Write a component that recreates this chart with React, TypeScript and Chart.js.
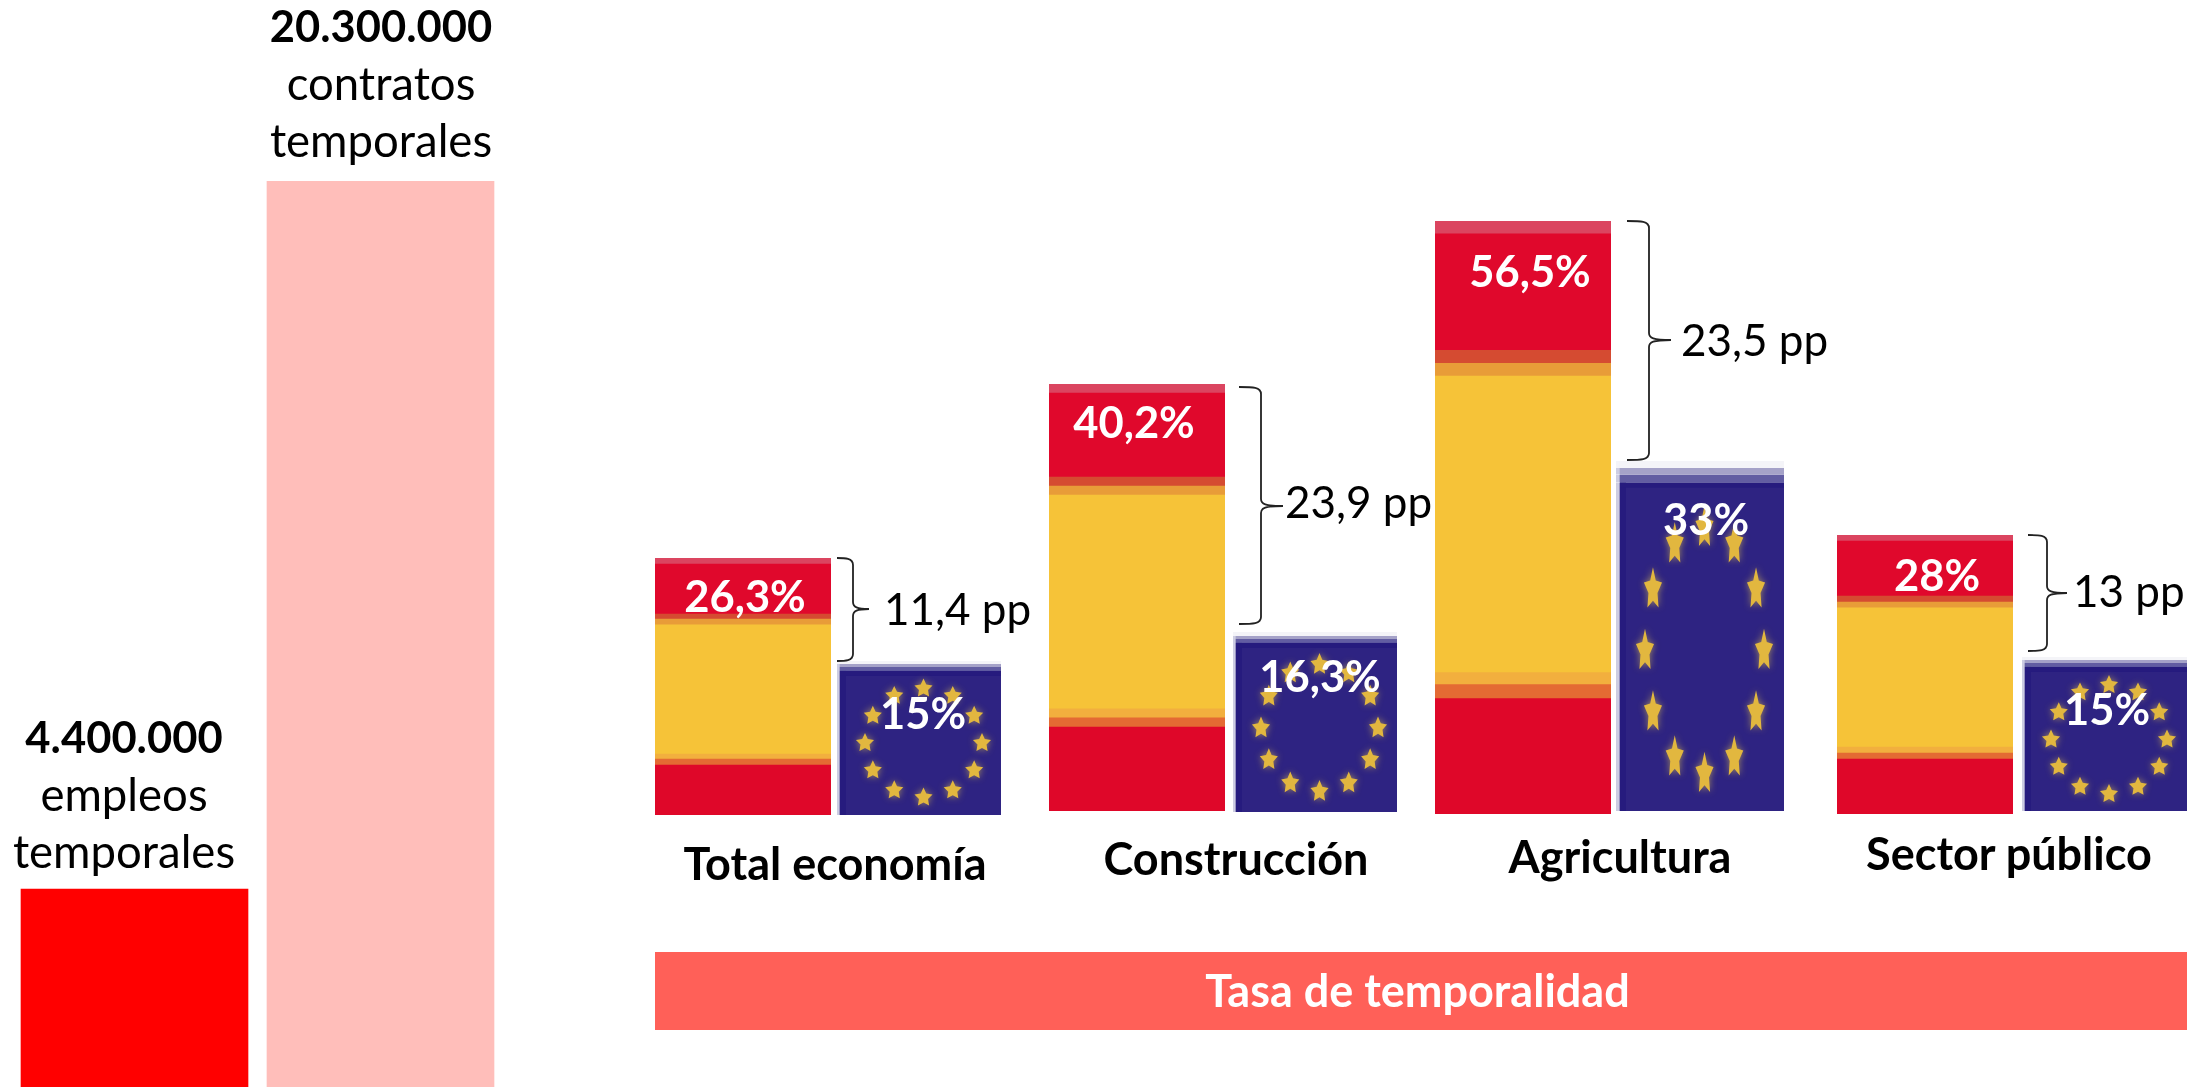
import React, { useEffect, useRef } from "react";
import { Chart, registerables } from "chart.js";

Chart.register(...registerables);

// ---------- data ----------
const totalsLabels = ["Empleos temporales", "Contratos temporales"];
const totalsValues = [4400000, 20300000];

const categories = ["Total economía", "Construcción", "Agricultura", "Sector público"];
const spainRates = [26.3, 40.2, 56.5, 28];
const euRates = [15, 16.3, 33, 15];
const gapLabels = ["11,4 pp", "23,9 pp", "23,5 pp", "13 pp"];
const rateLabelsSpain = ["26,3%", "40,2%", "56,5%", "28%"];
const rateLabelsEu = ["15%", "16,3%", "33%", "15%"];

// Flag stripes of each Spanish bar, bottom to top; they add up to the rate.
const esRedLow = [5.12, 7.91, 11.0, 5.52];
const esOrangeLow = [0.61, 0.85, 1.33, 0.6];
const esAmberLow = [0.51, 0.85, 1.14, 0.6];
const esYellow = [13.21, 20.13, 28.25, 13.96];
const esAmberHigh = [0.61, 0.85, 1.23, 0.6];
const esOrangeHigh = [0.51, 0.85, 1.23, 0.6];
const esRedHigh = [5.12, 7.91, 11.09, 5.52];
const esPale = [0.61, 0.85, 1.23, 0.6];

// Layers of each EU bar, bottom to top; they add up to the rate.
const euBody = [14.03, 15.31, 30.95, 14.03];
const euBandDark = [0.39, 0.36, 0.75, 0.39];
const euBandLight = [0.29, 0.27, 0.65, 0.29];
const euBandFaint = [0.29, 0.36, 0.65, 0.29];

// ---------- layout ----------
const spainFrames = [
  { left: 655, top: 558, width: 176, height: 257 },
  { left: 1049, top: 384, width: 176, height: 427 },
  { left: 1435, top: 221, width: 176, height: 593 },
  { left: 1837, top: 535, width: 176, height: 279 },
];
const euFrames = [
  { left: 837, top: 661, width: 164, height: 154 },
  { left: 1233, top: 632, width: 164, height: 180 },
  { left: 1616, top: 461, width: 168, height: 350 },
  { left: 2022, top: 657, width: 165, height: 154 },
];
const spainLabelPos = [
  { x: 745, y: 612 },
  { x: 1134, y: 438 },
  { x: 1530, y: 287 },
  { x: 1937, y: 591 },
];
const euLabelPos = [
  { x: 923, y: 729 },
  { x: 1320, y: 692 },
  { x: 1706, y: 535 },
  { x: 2107, y: 725 },
];
const rings = [
  { cx: 923.5, cy: 743, rx: 58.5, ry: 54.5 },
  { cx: 1319.5, cy: 728, rx: 58.5, ry: 63.5 },
  { cx: 1704.5, cy: 651, rx: 59.5, ry: 123 },
  { cx: 2109, cy: 739.5, rx: 58, ry: 54.5 },
];
const braces = [
  { x0: 837, x1: 853, x2: 869, top: 558, mid: 609, bottom: 661 },
  { x0: 1239, x1: 1261, x2: 1283, top: 387, mid: 506, bottom: 624 },
  { x0: 1627, x1: 1649, x2: 1671, top: 221, mid: 340, bottom: 460 },
  { x0: 2028, x1: 2047, x2: 2067, top: 535, mid: 593, bottom: 651 },
];
const gapPos = [
  { x: 884, y: 625 },
  { x: 1285, y: 518 },
  { x: 1681, y: 356 },
  { x: 2073, y: 607 },
];
const categoryPos = [
  { x: 835, y: 880 },
  { x: 1236, y: 875 },
  { x: 1620, y: 873 },
  { x: 2009, y: 870 },
];

const FONT = "Lato";
const LABEL_FONT = `bold 43.5px ${FONT}`;

function drawStar(ctx: CanvasRenderingContext2D, x: number, y: number, sx: number, sy: number) {
  ctx.beginPath();
  for (let i = 0; i < 10; i++) {
    const a = -Math.PI / 2 + (i * Math.PI) / 5;
    const r = i % 2 === 0 ? 1 : 0.5;
    const px = x + Math.cos(a) * r * sx;
    const py = y + Math.sin(a) * r * sy;
    if (i === 0) ctx.moveTo(px, py);
    else ctx.lineTo(px, py);
  }
  ctx.closePath();
  ctx.fill();
}

function labelPlugin(text: string, x: number, y: number) {
  return {
    id: "rateLabel",
    afterDatasetsDraw(chart: any) {
      const { ctx } = chart;
      ctx.save();
      ctx.font = LABEL_FONT;
      ctx.fillStyle = "#ffffff";
      ctx.textAlign = "center";
      ctx.textBaseline = "alphabetic";
      ctx.fillText(text, x, y);
      ctx.restore();
    },
  };
}

function starsPlugin(i: number) {
  const f = euFrames[i];
  const r = rings[i];
  return {
    id: "euStars",
    afterDatasetsDraw(chart: any) {
      const { ctx } = chart;
      ctx.save();
      // darker edge of the blurred flag picture
      const bodyTop = chart.scales.y.getPixelForValue(euBody[i]);
      const strip = f.left === 1616 ? 4 : 3;
      ctx.fillStyle = "#261B7E";
      ctx.fillRect(strip, bodyTop, 6, f.height - bodyTop);
      ctx.fillRect(strip, bodyTop, f.width - strip, 5);
      const sy = (10 * r.ry) / 55;
      for (let k = 0; k < 12; k++) {
        const a = (k * Math.PI) / 6;
        const x = r.cx - f.left + Math.cos(a) * r.rx;
        const y = r.cy - f.top + Math.sin(a) * r.ry;
        ctx.shadowColor = "rgba(170,145,90,0.95)";
        ctx.shadowBlur = 7;
        ctx.fillStyle = "#E2B73F";
        drawStar(ctx, x, y, 9.5, sy);
      }
      ctx.restore();
    },
  };
}

const hiddenAxes = (max: number) => ({
  x: { display: false, stacked: true, offset: true },
  y: { display: false, stacked: true, min: 0, max },
});

function stripeSet(colors: string[], series: number[][], i: number, extra: any = {}) {
  return series.map((s, k) => ({
    data: [s[i]],
    backgroundColor: colors[k],
    borderWidth: 0,
    barPercentage: 1,
    categoryPercentage: 1,
    ...(typeof extra === "function" ? extra(k) : extra),
  }));
}

const baseOptions = {
  responsive: false,
  animation: false,
  events: [],
  layout: { padding: 0 },
  plugins: { legend: { display: false }, tooltip: { enabled: false } },
};

function spainConfig(i: number) {
  const f = spainFrames[i];
  const p = spainLabelPos[i];
  return {
    type: "bar",
    data: {
      labels: [categories[i]],
      datasets: stripeSet(
        ["#DF0729", "#E46A33", "#F2AF3E", "#F6C338", "#E89C38", "#D54B31", "#E0082C", "#DB4560"],
        [esRedLow, esOrangeLow, esAmberLow, esYellow, esAmberHigh, esOrangeHigh, esRedHigh, esPale],
        i
      ),
    },
    options: { ...baseOptions, scales: hiddenAxes(spainRates[i]) },
    plugins: [labelPlugin(rateLabelsSpain[i], p.x - f.left, p.y - f.top)],
  };
}

function euConfig(i: number) {
  const f = euFrames[i];
  const p = euLabelPos[i];
  return {
    type: "bar",
    data: {
      labels: [categories[i]],
      datasets: stripeSet(
        ["#2E2382", "#625DA2", "#A5A2C8", "#F4F4F8"],
        [euBody, euBandDark, euBandLight, euBandFaint],
        i,
        (k: number) => ({
          borderWidth: { left: f.left === 1616 ? 4 : 3, top: 0, right: 0, bottom: 0 },
          borderColor: k === 3 ? "#F4F4F8" : "#CDCDE2",
          borderSkipped: false,
        })
      ),
    },
    options: { ...baseOptions, scales: hiddenAxes(euRates[i]) },
    plugins: [starsPlugin(i), labelPlugin(rateLabelsEu[i], p.x - f.left, p.y - f.top)],
  };
}

function totalsConfig() {
  return {
    type: "bar",
    data: {
      labels: totalsLabels,
      datasets: [
        {
          data: totalsValues,
          base: -46000,
          backgroundColor: ["#FF0000", "#FFBEBA"],
          borderWidth: 0,
          barThickness: 227,
        },
      ],
    },
    options: {
      ...baseOptions,
      layout: { padding: { left: 0.5, right: 0.5, top: 0, bottom: 0 } },
      scales: {
        x: { display: false },
        y: { display: false, min: -46000, max: totalsValues[1] },
      },
    },
  };
}

function ChartBox({ frame, make }: { frame: any; make: () => any }) {
  const ref = useRef<HTMLCanvasElement | null>(null);
  useEffect(() => {
    const chart = new Chart(ref.current as HTMLCanvasElement, make());
    return () => chart.destroy();
  }, []);
  return (
    <canvas
      ref={ref}
      width={frame.width}
      height={frame.height}
      style={{ position: "absolute", left: frame.left, top: frame.top, width: frame.width, height: frame.height }}
    />
  );
}

function bracePath(b: any) {
  const c = 7;
  return [
    `M${b.x0} ${b.top}`,
    `C${b.x1 - 8} ${b.top} ${b.x1} ${b.top} ${b.x1} ${b.top + c}`,
    `L${b.x1} ${b.mid - c}`,
    `C${b.x1} ${b.mid - 2} ${b.x1 + 4} ${b.mid} ${b.x2} ${b.mid}`,
    `C${b.x1 + 4} ${b.mid} ${b.x1} ${b.mid + 2} ${b.x1} ${b.mid + c}`,
    `L${b.x1} ${b.bottom - c}`,
    `C${b.x1} ${b.bottom} ${b.x1 - 8} ${b.bottom} ${b.x0} ${b.bottom}`,
  ].join(" ");
}

export default function App() {
  return (
    <div style={{ position: "fixed", left: 0, top: 0, width: 2210, height: 1087, background: "#fff", overflow: "hidden" }}>
      <ChartBox frame={{ left: 11, top: 181, width: 493, height: 906 }} make={totalsConfig} />
      {categories.map((_, i) => (
        <ChartBox key={"es" + i} frame={spainFrames[i]} make={() => spainConfig(i)} />
      ))}
      {categories.map((_, i) => (
        <ChartBox key={"eu" + i} frame={euFrames[i]} make={() => euConfig(i)} />
      ))}
      <svg width={2210} height={1087} style={{ position: "absolute", left: 0, top: 0, pointerEvents: "none" }} fontFamily={FONT}>
        <g textAnchor="middle" fill="#000">
          <text x={381} y={42} fontSize={43.5} fontWeight={700}>20.300.000</text>
          <text x={381} y={100} fontSize={45.5}>contratos</text>
          <text x={381} y={157} fontSize={45.5}>temporales</text>
          <text x={124} y={753} fontSize={43.5} fontWeight={700}>4.400.000</text>
          <text x={124} y={811} fontSize={45.5}>empleos</text>
          <text x={124} y={868} fontSize={45.5}>temporales</text>
        </g>
        {braces.map((b, i) => (
          <path key={i} d={bracePath(b)} fill="none" stroke="#222" strokeWidth={1.8} />
        ))}
        {gapLabels.map((g, i) => (
          <text key={i} x={gapPos[i].x} y={gapPos[i].y} fontSize={44} fill="#000">{g}</text>
        ))}
        {categories.map((c, i) => (
          <text key={i} x={categoryPos[i].x} y={categoryPos[i].y} fontSize={45} fontWeight={700} textAnchor="middle" fill="#000">{c}</text>
        ))}
        <rect x={655} y={952} width={1532} height={78} fill="#FF6058" />
        <text x={1417.5} y={1007} fontSize={45} fontWeight={700} textAnchor="middle" fill="#fff">Tasa de temporalidad</text>
      </svg>
    </div>
  );
}
